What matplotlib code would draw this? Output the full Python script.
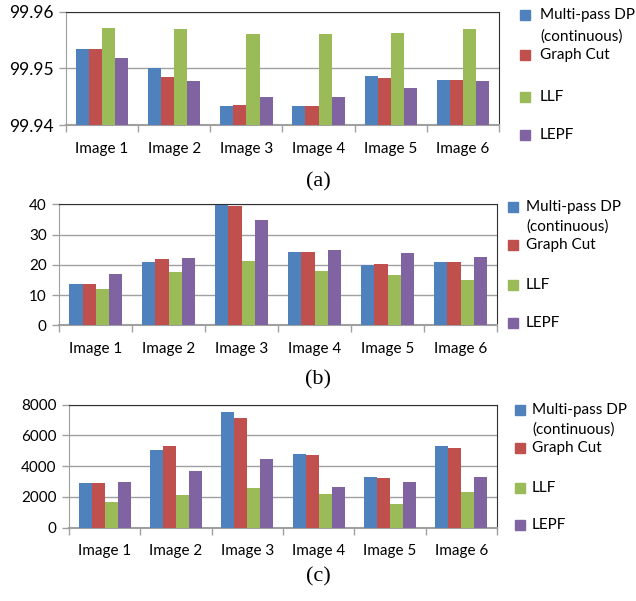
import matplotlib
matplotlib.use("Agg")
import matplotlib.pyplot as plt
import numpy as np

categories = ["Image 1", "Image 2", "Image 3", "Image 4", "Image 5", "Image 6"]
series = ["Multi-pass DP\n(continuous)", "Graph Cut", "LLF", "LEPF"]
colors = ["#4F81BD", "#C0504D", "#9BBB59", "#8064A2"]

a_mpdp = [99.9534, 99.9501, 99.9434, 99.9434, 99.9486, 99.9479]
a_gc   = [99.9534, 99.9485, 99.9435, 99.9434, 99.9483, 99.9479]
a_llf  = [99.9571, 99.9569, 99.9560, 99.9560, 99.9562, 99.9569]
a_lepf = [99.9518, 99.9478, 99.9449, 99.9449, 99.9465, 99.9478]

b_mpdp = [13.6, 20.9, 39.7, 24.1, 20.0, 20.8]
b_gc   = [13.6, 22.0, 39.3, 24.1, 20.2, 20.8]
b_llf  = [11.9, 17.6, 21.1, 17.9, 16.5, 15.0]
b_lepf = [17.1, 22.3, 34.9, 25.0, 23.8, 22.6]

c_mpdp = [2910, 5070, 7540, 4790, 3280, 5310]
c_gc   = [2900, 5310, 7110, 4730, 3210, 5160]
c_llf  = [1690, 2150, 2560, 2210, 1560, 2340]
c_lepf = [2970, 3690, 4450, 2630, 2970, 3280]

a_ticks = [99.94, 99.95, 99.96]
a_ticklabels = ["99.94", "99.95", "99.96"]
b_ticks = [0, 10, 20, 30, 40]
c_ticks = [0, 2000, 4000, 6000, 8000]
captions = ["(a)", "(b)", "(c)"]

W, H = 636, 601
fig = plt.figure(figsize=(W / 100, H / 100), dpi=100)
FONT = "Lato"

def box(l, t, r, b):
    return [l / W, 1 - b / H, (r - l) / W, (b - t) / H]

panels = [
    dict(rect=box(66, 11.7, 499, 125), data=[a_mpdp, a_gc, a_llf, a_lepf],
         ylim=(99.94, 99.96), ticks=a_ticks, labels=a_ticklabels, fs=12.5,
         leg=(525, 540, [15, 37, 55, 97, 135]), cap=182),
    dict(rect=box(59.3, 204.3, 497, 325.3), data=[b_mpdp, b_gc, b_llf, b_lepf],
         ylim=(0, 40), ticks=b_ticks, labels=[str(t) for t in b_ticks], fs=11,
         leg=(513, 526, [207, 227, 245, 285, 323]), cap=380),
    dict(rect=box(69, 404.7, 497, 527.7), data=[c_mpdp, c_gc, c_llf, c_lepf],
         ylim=(0, 8000), ticks=c_ticks, labels=[str(t) for t in c_ticks], fs=11,
         leg=(520, 532, [410, 430, 448, 488, 525]), cap=577),
]

x = np.arange(len(categories))
bw = 1 / 5.5
for p in panels:
    ax = fig.add_axes(p["rect"])
    for i, vals in enumerate(p["data"]):
        base = p["ylim"][0]
        ax.bar(x + (i - 1.5) * bw, np.array(vals) - base, bw, bottom=base,
               color=colors[i], zorder=3, linewidth=0)
    ax.set_xlim(-0.5, len(categories) - 0.5)
    ax.set_ylim(*p["ylim"])
    ax.set_yticks(p["ticks"])
    ax.set_yticklabels(p["labels"], fontsize=p["fs"], family=FONT)
    ax.set_xticks(x)
    ax.set_xticklabels(categories, fontsize=11, family=FONT)
    ax.set_xticks(np.arange(-0.5, len(categories)), minor=True)
    ax.tick_params(axis="x", which="major", length=0, pad=12)
    ax.tick_params(axis="x", which="minor", length=5, color="#a0a0a0", width=1)
    ax.tick_params(axis="y", length=5, color="#a0a0a0", width=1, pad=4)
    ax.yaxis.grid(True, color="#a0a0a0", lw=1, zorder=0)
    for s in ["top", "right"]:
        ax.spines[s].set_color("#303030")
        ax.spines[s].set_linewidth(0.8)
    ax.spines["left"].set_color("#a0a0a0")
    ax.spines["bottom"].set_color("#a0a0a0")
    ax.spines["bottom"].set_linewidth(1.5)
    sx, tx, ys = p["leg"]
    items = [(0, ys[0]), (1, ys[2]), (2, ys[3]), (3, ys[4])]
    for (i, yy) in items:
        fig.patches.append(plt.Rectangle(((sx - 5) / W, 1 - (yy + 5) / H), 10 / W, 10 / H,
                                         transform=fig.transFigure, color=colors[i]))
    fig.text(tx / W, 1 - ys[0] / H, "Multi-pass DP", fontsize=11, family=FONT, va="center")
    fig.text(tx / W, 1 - ys[1] / H, "(continuous)", fontsize=11, family=FONT, va="center")
    fig.text(tx / W, 1 - ys[2] / H, "Graph Cut", fontsize=11, family=FONT, va="center")
    fig.text(tx / W, 1 - ys[3] / H, "LLF", fontsize=11, family=FONT, va="center")
    fig.text(tx / W, 1 - ys[4] / H, "LEPF", fontsize=11, family=FONT, va="center")

for p, c in zip(panels, captions):
    fig.text(318 / W, 1 - p["cap"] / H, c, fontsize=16, family="Liberation Serif",
             ha="center", va="center")

fig.savefig("out.png", dpi=100)
